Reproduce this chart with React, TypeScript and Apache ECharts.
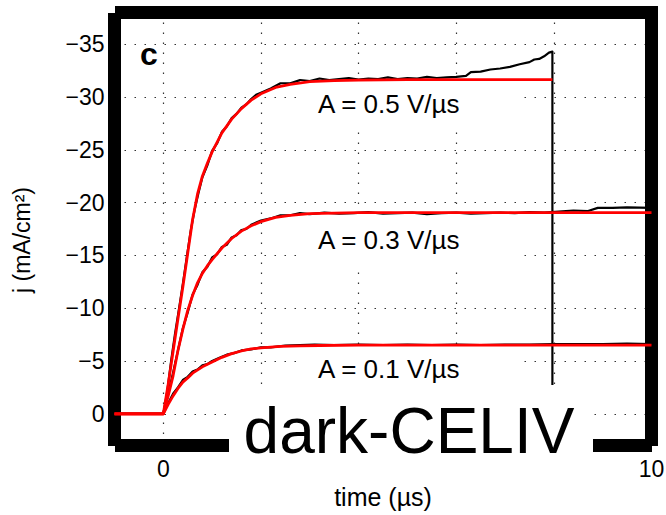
import React, { useEffect, useRef } from "react";
import * as echarts from "echarts";

const FONT = '"Liberation Sans", Arial, Helvetica, sans-serif';

// Grid / tick positions
const X_GRID = [0, 2, 4, 6, 8, 10];
const X_LABELS = [0, 10];
const Y_TICKS = [0, -5, -10, -15, -20, -25, -30, -35];

// Fitted transients (time in µs, current density in mA/cm²)
const fitTime05 = [-1, 0, 0.1, 0.2, 0.3, 0.4, 0.5, 0.6, 0.7, 0.8, 0.9, 1.0, 1.2, 1.4, 1.6, 1.8, 2.0, 2.3, 2.6, 3.0, 3.5, 4, 5, 6, 7, 7.97];
const fitJ05 = [0, 0, -2.8, -5.9, -9.0, -12.0, -15.2, -18.4, -20.8, -22.5, -23.7, -24.8, -26.6, -27.9, -28.9, -29.7, -30.3, -30.9, -31.2, -31.45, -31.55, -31.6, -31.65, -31.65, -31.65, -31.65];

const fitTime03 = [-1, 0, 0.1, 0.2, 0.3, 0.4, 0.5, 0.6, 0.7, 0.8, 0.9, 1.0, 1.2, 1.4, 1.6, 1.8, 2.0, 2.3, 2.6, 3.0, 3.5, 4, 6, 8, 10];
const fitJ03 = [0, 0, -1.7, -3.6, -6.0, -8.0, -9.8, -11.2, -12.4, -13.3, -14.0, -14.6, -15.7, -16.6, -17.3, -17.8, -18.2, -18.6, -18.8, -18.95, -19.0, -19.05, -19.05, -19.05, -19.05];

const fitTime01 = [-1, 0, 0.1, 0.2, 0.3, 0.4, 0.5, 0.6, 0.8, 1.0, 1.2, 1.4, 1.6, 1.8, 2.0, 2.4, 2.8, 3.2, 4, 6, 8, 10];
const fitJ01 = [0, 0, -0.9, -1.7, -2.4, -3.0, -3.4, -3.85, -4.45, -4.9, -5.35, -5.7, -5.95, -6.15, -6.25, -6.38, -6.44, -6.47, -6.5, -6.5, -6.5, -6.5];

// Measured transients
const measTime05 = [-1, 0, 0.08, 0.16, 0.24, 0.32, 0.4, 0.48, 0.56, 0.64, 0.72, 0.8, 0.9, 1.0, 1.1, 1.2, 1.3, 1.4, 1.5, 1.6, 1.7, 1.8, 1.9, 2.0, 2.2, 2.4, 2.6, 2.8, 3.0, 3.2, 3.4, 3.6, 3.8, 4.0, 4.2, 4.4, 4.6, 4.8, 5.0, 5.2, 5.4, 5.6, 5.8, 6.0, 6.2, 6.3, 6.5, 6.7, 6.9, 7.1, 7.3, 7.5, 7.6, 7.7, 7.8, 7.9, 7.97, 7.97];
const measJ05 = [0, 0, -2.1, -5.0, -7.6, -9.9, -12.3, -14.8, -17.3, -19.3, -20.9, -22.4, -23.5, -24.9, -25.6, -26.7, -27.2, -28.0, -28.4, -29.0, -29.3, -29.8, -30.2, -30.4, -30.8, -31.3, -31.3, -31.6, -31.5, -31.75, -31.6, -31.7, -31.8, -31.65, -31.75, -31.7, -31.85, -31.7, -31.8, -31.75, -31.9, -31.8, -31.85, -31.9, -32.0, -32.35, -32.4, -32.6, -32.7, -32.85, -33.1, -33.3, -33.55, -33.6, -33.85, -34.2, -34.3, 0];

const measTime03 = [-1, 0, 0.1, 0.2, 0.3, 0.4, 0.5, 0.6, 0.7, 0.8, 0.9, 1.0, 1.1, 1.2, 1.3, 1.4, 1.5, 1.6, 1.7, 1.8, 2.0, 2.2, 2.4, 2.6, 2.8, 3.0, 3.3, 3.6, 3.9, 4.2, 4.5, 4.8, 5.1, 5.4, 5.7, 6.0, 6.3, 6.6, 6.9, 7.2, 7.5, 7.8, 8.1, 8.4, 8.7, 8.9, 9.2, 9.5, 10];
const measJ03 = [0, 0, -1.9, -3.9, -6.0, -8.1, -9.6, -11.3, -12.2, -13.4, -13.9, -14.8, -15.1, -15.8, -16.0, -16.7, -16.9, -17.4, -17.5, -17.9, -18.3, -18.5, -18.8, -18.8, -19.0, -18.9, -19.05, -18.95, -19.0, -19.1, -18.95, -19.0, -19.05, -18.9, -19.0, -19.05, -18.95, -19.0, -19.05, -19.0, -19.1, -19.05, -19.15, -19.25, -19.2, -19.5, -19.5, -19.55, -19.5];

const measTime01 = [-1, 0, 0.1, 0.2, 0.3, 0.4, 0.5, 0.6, 0.7, 0.8, 0.9, 1.0, 1.15, 1.3, 1.45, 1.6, 1.8, 2.0, 2.2, 2.5, 2.8, 3.1, 3.5, 4, 4.5, 5, 5.5, 6, 6.5, 7, 7.5, 8, 8.5, 9, 9.5, 10];
const measJ01 = [0, 0, -1.0, -1.9, -2.5, -3.2, -3.5, -4.0, -4.2, -4.6, -4.7, -5.0, -5.3, -5.6, -5.75, -6.0, -6.1, -6.3, -6.3, -6.45, -6.5, -6.55, -6.5, -6.55, -6.5, -6.55, -6.5, -6.55, -6.5, -6.55, -6.55, -6.6, -6.6, -6.6, -6.65, -6.6];

const rampLabels = ["A = 0.5 V/\u00b5s", "A = 0.3 V/\u00b5s", "A = 0.1 V/\u00b5s"];
const rampLabelY = [104, 240, 369];

const pairs = (t: number[], j: number[]) => t.map((v, i) => [v, j[i]]);

const minusFmt = (v: number) => (v === 0 ? "0" : (v < 0 ? "\u2212" : "") + Math.abs(v));

const gridLine = { show: true, lineStyle: { color: "#333", width: 1.2, type: [1.5, 8.5] } };

function lineSeries(name: string, t: number[], j: number[], color: string, width: number, z: number) {
  return {
    name,
    type: "line",
    data: pairs(t, j),
    showSymbol: false,
    symbol: "none",
    z,
    lineStyle: { color, width, join: "round" },
    silent: true,
  };
}

export default function App() {
  const ref = useRef<HTMLDivElement>(null);

  useEffect(() => {
    if (!ref.current) return;
    const chart = echarts.init(ref.current, undefined, { renderer: "svg" });

    // thick axes box, drawn as four bars
    const frame = [
      { x: 115, y: 6, width: 543, height: 13 },
      { x: 108, y: 13, width: 13, height: 433 },
      { x: 645, y: 12, width: 13, height: 434 },
      { x: 115, y: 439, width: 537, height: 13 },
    ].map((s) => ({ type: "rect", z: 1, silent: true, shape: s, style: { fill: "#000" } }));

    const labelBoxes = rampLabelY.map((cy) => ({
      type: "rect",
      z: 4,
      silent: true,
      shape: { x: 300, y: cy - 23, width: 217, height: 48 },
      style: { fill: "#fff" },
    }));

    const labelTexts = rampLabels.map((txt, i) => ({
      type: "text",
      z: 4,
      silent: true,
      x: 318,
      y: rampLabelY[i],
      style: {
        text: txt,
        fill: "#000",
        fontSize: 26,
        fontFamily: FONT,
        align: "left",
        verticalAlign: "middle",
        textAlign: "left",
        textVerticalAlign: "middle",
      },
    }));

    const option = {
      animation: false,
      backgroundColor: "#fff",
      grid: { left: 114.5, right: 14.5, top: 12.5, bottom: 69.5, containLabel: false, outerBoundsMode: "none" },
      xAxis: {
        type: "value",
        min: -1,
        max: 10,
        axisLine: { show: false },
        axisTick: { show: false, customValues: X_GRID },
        axisLabel: {
          customValues: X_LABELS,
          margin: 12,
          fontSize: 23,
          color: "#000",
          fontFamily: FONT,
        },
        splitLine: gridLine,
      },
      yAxis: {
        type: "value",
        min: -38,
        max: 3,
        inverse: true,
        axisLine: { show: false },
        axisTick: { show: false, customValues: Y_TICKS },
        axisLabel: {
          customValues: Y_TICKS,
          formatter: minusFmt,
          margin: 10,
          fontSize: 23,
          color: "#000",
          fontFamily: FONT,
        },
        splitLine: gridLine,
      },
      series: [
        lineSeries("meas 0.5", measTime05, measJ05, "#000", 2.2, 3),
        lineSeries("meas 0.3", measTime03, measJ03, "#000", 2.2, 3),
        lineSeries("meas 0.1", measTime01, measJ01, "#000", 2.2, 3),
        lineSeries("fit 0.5", fitTime05, fitJ05, "#ff0000", 2.8, 5),
        lineSeries("fit 0.3", fitTime03, fitJ03, "#ff0000", 2.8, 5),
        lineSeries("fit 0.1", fitTime01, fitJ01, "#ff0000", 2.8, 5),
      ],
      graphic: [
        ...frame,
        ...labelBoxes,
        ...labelTexts,
        {
          type: "text",
          z: 4,
          silent: true,
          x: 149,
          y: 54,
          style: {
            text: "c",
            fill: "#000",
            fontSize: 32,
            fontWeight: "bold",
            fontFamily: FONT,
            align: "center",
            verticalAlign: "middle",
            textAlign: "center",
            textVerticalAlign: "middle",
          },
        },
        {
          type: "rect",
          z: 6,
          silent: true,
          shape: { x: 229, y: 385, width: 364, height: 93 },
          style: { fill: "#fff" },
        },
        {
          type: "text",
          z: 7,
          silent: true,
          x: 409,
          y: 431,
          style: {
            text: "dark-CELIV",
            fill: "#000",
            fontSize: 64,
            fontFamily: FONT,
            align: "center",
            verticalAlign: "middle",
            textAlign: "center",
            textVerticalAlign: "middle",
          },
        },
        {
          type: "text",
          z: 7,
          silent: true,
          x: 383,
          y: 497,
          style: {
            text: "time (\u00b5s)",
            fill: "#000",
            fontSize: 25,
            fontFamily: FONT,
            align: "center",
            verticalAlign: "middle",
            textAlign: "center",
            textVerticalAlign: "middle",
          },
        },
        {
          type: "text",
          z: 7,
          silent: true,
          x: 22,
          y: 240,
          rotation: Math.PI / 2,
          style: {
            text: "j (mA/cm\u00b2)",
            fill: "#000",
            fontSize: 23,
            fontFamily: FONT,
            align: "center",
            verticalAlign: "middle",
            textAlign: "center",
            textVerticalAlign: "middle",
          },
        },
      ],
    };

    chart.setOption(option as any);
    return () => chart.dispose();
  }, []);

  return (
    <div
      ref={ref}
      style={{ position: "fixed", left: 0, top: 0, width: 666, height: 515, background: "#fff" }}
    />
  );
}
